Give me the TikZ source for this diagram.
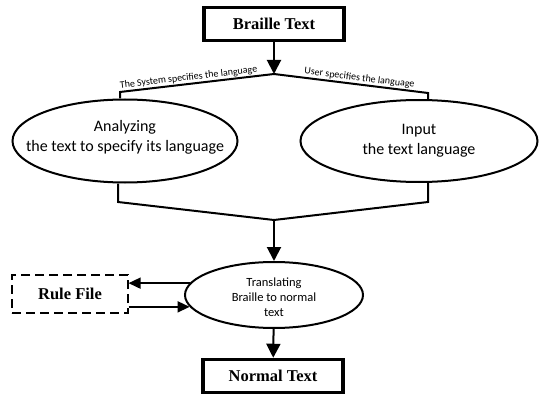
\documentclass[tikz,border=0pt]{standalone}
\usepackage{fontspec}
\setmainfont{Liberation Serif}
\newfontfamily\calfont{Carlito}
\usepackage{tikz}
\usetikzlibrary{shapes.geometric, arrows.meta, positioning}

\begin{document}
\begin{tikzpicture}[
    x=1pt, y=-1pt,
    databox/.style={draw, line width=3.5pt, minimum width=140pt, minimum height=33pt, font=\fontsize{16.5}{18}\selectfont\bfseries},
    rulebox/.style={draw, line width=1.1pt, dash pattern=on 9pt off 5pt, minimum width=116pt, minimum height=38pt, font=\fontsize{16.5}{18}\selectfont\bfseries},
    proc/.style={draw, ellipse, line width=2pt, inner sep=0pt},
    proctext/.style={font=\calfont\fontsize{16}{20}\selectfont, align=center},
    transtext/.style={font=\calfont\fontsize{12.5}{15}\selectfont, align=center},
    flow/.style={line width=2pt},
    next/.style={-{Triangle[length=14pt, width=14pt]}, line width=2pt},
    ruleflow/.style={-{Triangle[length=12pt, width=11pt]}, line width=1.5pt},
    branch/.style={font=\calfont\fontsize{10}{11}\selectfont, sloped, above, inner sep=1pt}
]
    \useasboundingbox (0,0) rectangle (539,396);

    % Nodes
    \node[databox] (btext) at (274,24) {Braille Text};
    \node[proc, minimum width=225pt, minimum height=83pt,
        label={[proctext, yshift=4pt]center:{Analyzing\\the text to specify its language}}] (anl) at (125,141) {};
    \node[proc, minimum width=237pt, minimum height=82pt,
        label={[proctext]center:{Input\\the text language}}] (inp) at (419,141) {};
    \node[proc, minimum width=178pt, minimum height=66pt,
        label={[transtext, yshift=-2pt]center:{Translating\\Braille to normal\\text}}] (trans) at (274,295) {};
    \node[rulebox] (rule) at (70,294) {Rule File};
    \node[databox] (ntext) at (273,376) {Normal Text};

    % Branch points
    \coordinate (split) at (274,74);
    \coordinate (lbend) at (120,92);
    \coordinate (rbend) at (428,93);
    \coordinate (lfoot) at (118,202);
    \coordinate (rfoot) at (428,202);
    \coordinate (merge) at (274,220);

    % Connectors
    \draw[next] (btext) -- (split);
    \draw[flow] (lbend |- anl.north) -- (lbend) -- node[branch, pos=0.45] {The System specifies the language} (split);
    \draw[flow] (split) -- node[branch, pos=0.55] {User specifies the language} (rbend) -- (rbend |- inp.north);
    \draw[flow] (lfoot |- anl.south) -- (lfoot) -- (merge) -- (rfoot) -- (rfoot |- inp.south);
    \draw[next] (merge) -- (trans);
    \draw[next] (trans) -- (ntext);

    % Rule file
    \draw[ruleflow] (trans.172) -- (trans.172 -| rule.east);
    \draw[ruleflow] (rule.east |- trans.188) -- (trans.188);
\end{tikzpicture}
\end{document}
